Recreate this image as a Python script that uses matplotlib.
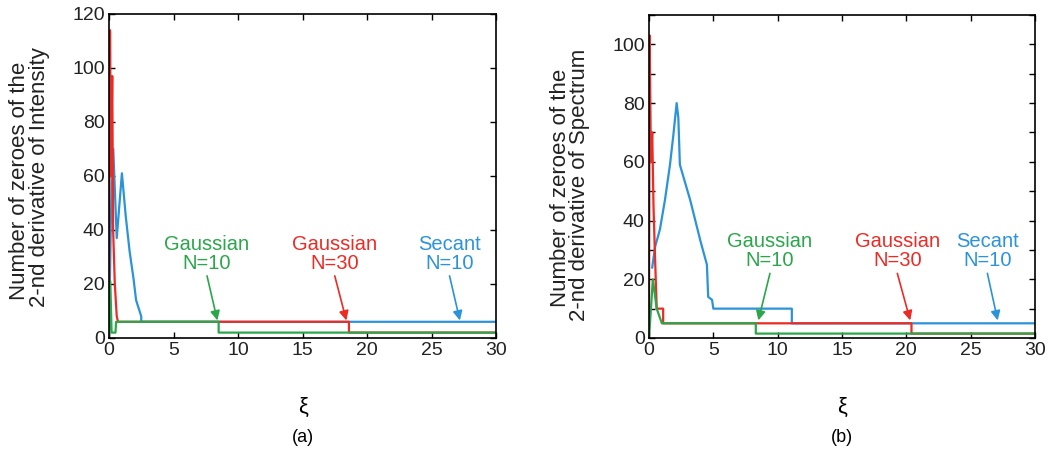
import matplotlib
matplotlib.use('Agg')
import matplotlib.pyplot as plt
from matplotlib.ticker import MultipleLocator, FuncFormatter

plt.rcParams['font.family'] = ['Liberation Sans', 'DejaVu Sans']

GREEN = '#2ba64a'
RED = '#ec2b25'
BLUE = '#2b93d9'

# panel (a): zeroes of 2nd derivative of intensity
blue_a_x = [0, 0.15, 0.33, 0.6, 1.0, 1.3, 1.6, 1.9, 2.1, 2.3, 2.5, 2.5, 30]
blue_a_y = [0, 45, 70, 37, 61, 45, 32, 22, 14, 11, 8, 6, 6]
red_a_x = [0, 0.08, 0.15, 0.25, 0.32, 0.45, 0.6, 0.7, 18.6, 18.6, 30]
red_a_y = [0, 114, 60, 97, 40, 20, 8, 6, 6, 2, 2]
green_a_x = [0, 0.1, 0.2, 0.5, 0.55, 8.5, 8.5, 30]
green_a_y = [0, 21, 2, 2, 6, 6, 2, 2]

# panel (b): zeroes of 2nd derivative of spectrum
blue_b_x = [0.25, 0.47, 0.85, 1.24, 1.63, 1.89, 2.15, 2.28, 2.4, 2.8, 3.2, 3.6, 4.0,
            4.5, 4.6, 4.9, 5.0, 11.1, 11.1, 30]
blue_b_y = [24, 31, 37, 47, 59, 69, 80, 75, 59, 53, 47, 40, 33, 25, 14, 13, 10, 10, 5, 5]
red_b_x = [0, 0.05, 0.15, 0.25, 0.35, 0.45, 0.6, 1.1, 1.1, 20.4, 20.4, 30]
red_b_y = [0, 103, 60, 70, 45, 30, 10, 10, 5, 5, 1.5, 1.5]
green_b_x = [0, 0.3, 0.6, 1.0, 8.3, 8.3, 30]
green_b_y = [0, 20, 10, 5, 5, 1.5, 1.5]

labels = ['Gaussian\nN=10', 'Gaussian\nN=30', 'Secant\nN=10']
colors = [GREEN, RED, BLUE]

# (text x, text y, arrow head x, arrow head y) per label
notes_a = [(7.6, 23, 8.4, 6.5), (17.5, 23, 18.4, 6.5), (26.4, 23, 27.2, 6.5)]
notes_b = [(9.4, 22, 8.5, 6.0), (19.3, 22, 20.3, 6.0), (26.3, 22, 27.1, 6.0)]

W, H = 1059, 459
fig = plt.figure(figsize=(W / 100, H / 100), dpi=100)
ax_a = fig.add_axes([109 / W, 1 - 338 / H, 387 / W, 324 / H])
ax_b = fig.add_axes([649 / W, 1 - 338 / H, 386 / W, 323 / H])


def draw(ax, blue, red, green, notes, ymax, ystep, label_step):
    ax.plot(*blue, color=BLUE, lw=1.6)
    ax.plot(*red, color=RED, lw=1.6)
    ax.plot(*green, color=GREEN, lw=1.6)
    ax.set_xlim(0, 30)
    ax.set_ylim(0, ymax)
    ax.xaxis.set_major_locator(MultipleLocator(5))
    ax.yaxis.set_major_locator(MultipleLocator(ystep))
    ax.yaxis.set_major_formatter(FuncFormatter(
        lambda v, p: '%d' % v if round(v) % label_step == 0 else ''))
    ax.tick_params(direction='in', top=True, right=True, length=4, width=1,
                   labelsize=14, pad=3, labelcolor='#222222')
    for s in ax.spines.values():
        s.set_linewidth(1.2)
    for (tx, ty, hx, hy), lab, c in zip(notes, labels, colors):
        ax.annotate('', xy=(hx, hy), xytext=(tx, ty),
                    arrowprops=dict(arrowstyle='-|>', color=c, lw=1.2,
                                    mutation_scale=14, shrinkA=0, shrinkB=0))
        ax.text(tx, ty + 1, lab, color=c, ha='center', va='bottom', fontsize=14.5,
                linespacing=1.0)


draw(ax_a, (blue_a_x, blue_a_y), (red_a_x, red_a_y), (green_a_x, green_a_y),
     notes_a, 120, 20, 20)
draw(ax_b, (blue_b_x, blue_b_y), (red_b_x, red_b_y), (green_b_x, green_b_y),
     notes_b, 110, 10, 20)

# y labels, two tight lines each
ylab_font = dict(rotation=90, ha='center', va='center', fontsize=16, color='#222222')
fig.text(20 / W, 1 - 181 / H, 'Number of zeroes of the', **ylab_font)
fig.text(40 / W, 1 - 177 / H, '2-nd derivative of Intensity', **ylab_font)
fig.text(560 / W, 1 - 188 / H, 'Number of zeroes of the', **ylab_font)
fig.text(580 / W, 1 - 185 / H, '2-nd derivative of Spectrum', **ylab_font)

for cx, tag in [(303, '(a)'), (842, '(b)')]:
    fig.text(cx / W, 1 - 407 / H, 'ξ', ha='center', va='center', fontsize=16)
    fig.text(cx / W, 1 - 438 / H, tag, ha='center', va='center', fontsize=13)

fig.savefig('out.png', dpi=100)
